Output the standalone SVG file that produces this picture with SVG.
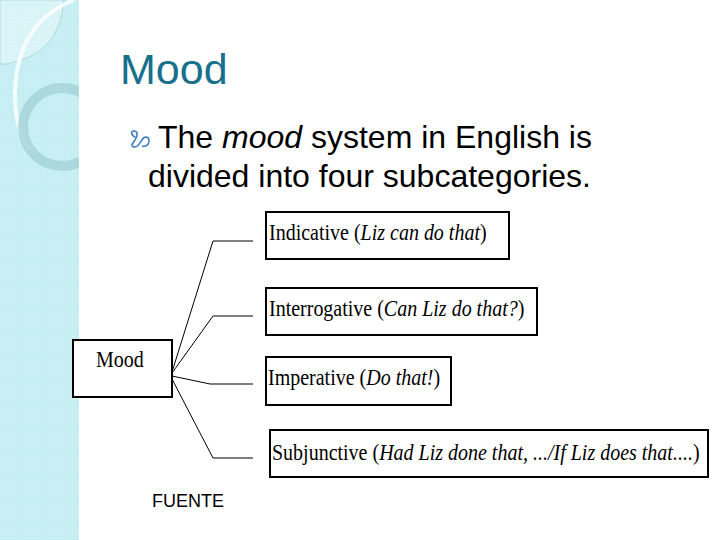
<svg xmlns="http://www.w3.org/2000/svg" width="720" height="540" viewBox="0 0 720 540">
  <defs>
    <pattern id="dots" width="3" height="3" patternUnits="userSpaceOnUse">
      <rect width="3" height="3" fill="#c4eef1"/>
      <rect x="0" y="0" width="1" height="1" fill="#d9f5f7"/>
    </pattern>
    <clipPath id="strip">
      <rect x="0" y="0" width="79" height="540"/>
    </clipPath>
  </defs>
  <style>
    .box { fill: #ffffff; stroke: #000000; stroke-width: 2; }
    .lbl { font-family: "Liberation Serif", "Times New Roman", serif; font-size: 20px; fill: #000000; }
    .it { font-style: italic; }
    .conn { fill: none; stroke: #000000; stroke-width: 1; }
    .body { font-family: "Liberation Sans", Arial, sans-serif; font-size: 32px; fill: #000000; }
  </style>

  <rect x="0" y="0" width="720" height="540" fill="#ffffff"/>

  <g id="background-strip" clip-path="url(#strip)">
    <rect x="0" y="0" width="79" height="540" fill="url(#dots)"/>
    <path d="M0,0 H64 Q60,55 6,64 H0 Z" fill="#ffffff" fill-opacity="0.35" stroke="#a9d2d6" stroke-width="0.8"/>
    <path d="M74,0 Q18,22 15,90 Q14,130 30,150" fill="none" stroke="#ffffff" stroke-opacity="0.8" stroke-width="4"/>
    <circle cx="62" cy="127" r="39" fill="none" stroke="#a6d4d9" stroke-width="10" stroke-opacity="0.85"/>
  </g>

  <g id="title">
    <text x="120" y="84" font-family="'Liberation Sans', Arial, sans-serif" font-size="43" fill="#17708c">Mood</text>
  </g>

  <g id="bullet-text">
    <path d="M137,138 C131,136 130,131 134,131 C138,131 138,136 135,140 C132,144 130,147 135,147 C138,147 140,143 142,140 C144,136 149,136 149,141 C149,145 146,147 142,146" fill="none" stroke="#3d7fc0" stroke-width="1.6"/>
    <text class="body" x="158" y="148">The <tspan class="it">mood</tspan> system in English is</text>
    <text class="body" x="148" y="187">divided into four subcategories.</text>
  </g>

  <g id="connectors">
    <polyline class="conn" points="172,372 213,241 253,241"/>
    <polyline class="conn" points="172,373 213,316 253,316"/>
    <polyline class="conn" points="172,376 210,384 253,384" stroke-width="2"/>
    <polyline class="conn" points="172,379 213,458 253,458"/>
  </g>

  <g id="node-mood">
    <rect class="box" x="73" y="340" width="99" height="57"/>
    <text class="lbl" transform="translate(0,367) scale(1,1.2) translate(0,-367)" x="96" y="367">Mood</text>
  </g>

  <g id="node-indicative">
    <rect class="box" x="266" y="212" width="243" height="47"/>
    <text class="lbl" transform="translate(0,240) scale(1,1.2) translate(0,-240)" x="269" y="240">Indicative (<tspan class="it">Liz can do that</tspan>)</text>
  </g>

  <g id="node-interrogative">
    <rect class="box" x="266" y="288" width="271" height="47"/>
    <text class="lbl" transform="translate(0,316) scale(1,1.2) translate(0,-316)" x="269" y="316">Interrogative (<tspan class="it">Can Liz do that?</tspan>)</text>
  </g>

  <g id="node-imperative">
    <rect class="box" x="266" y="357" width="185" height="48"/>
    <text class="lbl" transform="translate(0,385) scale(1,1.2) translate(0,-385)" x="268" y="385">Imperative (<tspan class="it">Do that!</tspan>)</text>
  </g>

  <g id="node-subjunctive">
    <rect class="box" x="270" y="430" width="438" height="47"/>
    <text class="lbl" transform="translate(0,460) scale(1,1.2) translate(0,-460)" x="272" y="460">Subjunctive (<tspan class="it">Had Liz done that, .../If Liz does that....</tspan>)</text>
  </g>

  <g id="source">
    <text x="152" y="507" font-family="'Liberation Sans', Arial, sans-serif" font-size="18" fill="#000000">FUENTE</text>
  </g>
</svg>
